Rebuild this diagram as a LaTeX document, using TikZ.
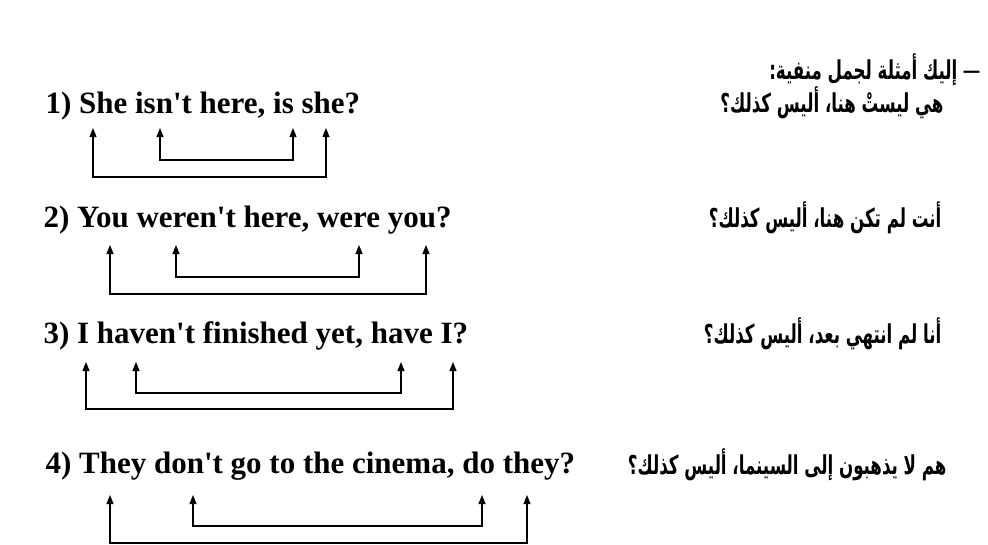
\documentclass[tikz,border=0pt]{standalone}
\usepackage{fontspec}
\setmainfont{Liberation Serif}
\newfontfamily\arabicfont[Script=Arabic,FakeStretch=0.64]{DejaVu Sans}
\TeXXeTstate=1
\usetikzlibrary{arrows.meta}

\begin{document}
\begin{tikzpicture}[x=1pt,y=-1pt, line width=1.1pt, >={Triangle[width=7pt,length=9pt]},
  eng/.style={anchor=base west, inner sep=0pt, font=\fontsize{31}{36}\selectfont\bfseries},
  arb/.style={anchor=base east, inner sep=0pt, font=\fontsize{26}{30}\selectfont\arabicfont\bfseries}]
\useasboundingbox (0,0) rectangle (988,544);

\node[arb] (head) at (958,79) {\beginR إليك أمثلة لجمل منفية:\endR};
\node[eng, anchor=base east] (dash) at (980,79) {\textendash};

\node[eng] (e1) at (45,113) {1) She isn\textquotesingle t here, is she?};
\node[arb] (a1) at (944,112) {\beginR هي ليستْ هنا، أليس كذلك؟\endR};
\coordinate (t1a) at (93,128);
\coordinate (t1b) at (160,128);
\coordinate (t1c) at (293,128);
\coordinate (t1d) at (326,128);
\draw[<->] (t1b) -- ++(0,32) -| (t1c);
\draw[<->] (t1a) -- ++(0,49) -| (t1d);

\node[eng] (e2) at (43,227) {2) You weren\textquotesingle t here, were you?};
\node[arb] (a2) at (942,227) {\beginR أنت لم تكن هنا، أليس كذلك؟\endR};
\coordinate (t2a) at (110,245);
\coordinate (t2b) at (176,245);
\coordinate (t2c) at (359,245);
\coordinate (t2d) at (426,245);
\draw[<->] (t2b) -- ++(0,32) -| (t2c);
\draw[<->] (t2a) -- ++(0,49) -| (t2d);

\node[eng] (e3) at (43,343) {3) I haven\textquotesingle t finished yet, have I?};
\node[arb] (a3) at (942,343) {\beginR أنا لم انتهي بعد، أليس كذلك؟\endR};
\coordinate (t3a) at (86,362);
\coordinate (t3b) at (136,362);
\coordinate (t3c) at (401,362);
\coordinate (t3d) at (453,362);
\draw[<->] (t3b) -- ++(0,31) -| (t3c);
\draw[<->] (t3a) -- ++(0,47) -| (t3d);

\node[eng] (e4) at (45,473) {4) They don\textquotesingle t go to the cinema, do they?};
\node[arb] (a4) at (947,474) {\beginR هم لا يذهبون إلى السينما، أليس كذلك؟\endR};
\coordinate (t4a) at (110,495);
\coordinate (t4b) at (193,495);
\coordinate (t4c) at (482,495);
\coordinate (t4d) at (527,495);
\draw[<->] (t4b) -- ++(0,31) -| (t4c);
\draw[<->] (t4a) -- ++(0,48) -| (t4d);
\end{tikzpicture}
\end{document}
